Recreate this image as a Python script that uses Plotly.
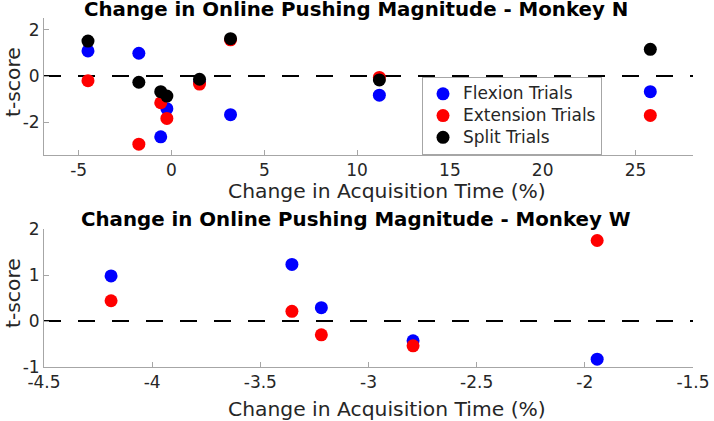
import plotly.graph_objects as go
from plotly.subplots import make_subplots

# Monkey N data
n_x = [-4.5, -1.76, -0.58, -0.25, 1.51, 3.18, 11.2, 25.8]
n_flex = [1.09, 0.99, -2.64, -1.42, -0.25, -1.68, -0.83, -0.68]
n_ext = [-0.20, -2.96, -1.16, -1.84, -0.35, 1.57, -0.06, -1.71]
n_split = [1.52, -0.27, -0.68, -0.87, -0.14, 1.62, -0.17, 1.16]

# Monkey W data
w_x = [-4.19, -3.354, -3.218, -2.794, -1.943]
w_flex = [0.98, 1.23, 0.29, -0.43, -0.83]
w_ext = [0.44, 0.21, -0.30, -0.54, 1.75]

series_names = ["Flexion Trials", "Extension Trials", "Split Trials"]
colors = ["#0000ff", "#ff0000", "#000000"]

n_xticks = [-5, 0, 5, 10, 15, 20, 25]
n_yticks = [-2, 0, 2]
w_xticks = [-4.5, -4, -3.5, -3, -2.5, -2, -1.5]
w_yticks = [-1, 0, 1, 2]

def lab(v):
    return "%g" % v

W, H = 714, 421
# plot area in page pixels
L, R, T, B = 44, 693, 18, 367
ml, mr, mt, mb = L, W - R, T, H - B
ph = H - mt - mb
pw = W - ml - mr

def py(y):  # page y -> paper
    return 1 - (y - T) / ph

def px(x):  # page x -> paper
    return (x - L) / pw

fig = make_subplots(rows=2, cols=1)
fig.update_layout(
    yaxis=dict(domain=[py(155), 1]),
    yaxis2=dict(domain=[0, py(229)]),
)

msize = 13
for name, vals, c in zip(series_names, [n_flex, n_ext, n_split], colors):
    fig.add_trace(go.Scatter(x=n_x, y=vals, mode="markers",
                             name=f'<span style="font-size:17px">{name}</span>',
                             marker=dict(color=c, size=msize, line=dict(width=0)),
                             showlegend=True), row=1, col=1)
for name, vals, c in zip(series_names[:2], [w_flex, w_ext], colors[:2]):
    fig.add_trace(go.Scatter(x=w_x, y=vals, mode="markers", name=name,
                             marker=dict(color=c, size=msize, line=dict(width=0)),
                             showlegend=False), row=2, col=1)

for r in (1, 2):
    fig.add_hline(y=0, line=dict(color="#000000", width=2, dash="17px,17px"),
                  row=r, col=1, layer="below")

font = "DejaVu Sans"
axis_common = dict(showgrid=False, zeroline=False, showline=True, linecolor="#a6a6a6",
                   linewidth=1, ticks="inside", ticklen=5, tickcolor="#a6a6a6",
                   automargin=False,
                   tickfont=dict(family=font, size=17, color="#262626"), mirror=False)

fig.update_xaxes(**axis_common)
fig.update_yaxes(**axis_common)
fig.update_xaxes(range=[-6.87, 28.1], tickvals=n_xticks, ticktext=[lab(v) for v in n_xticks], row=1, col=1)
fig.update_yaxes(range=[-3.43, 2.52], tickvals=n_yticks, ticktext=[lab(v) for v in n_yticks], row=1, col=1)
fig.update_xaxes(range=[-4.5, -1.5], tickvals=w_xticks, ticktext=[lab(v) for v in w_xticks], row=2, col=1)
fig.update_yaxes(range=[-1, 2], tickvals=w_yticks, ticktext=[lab(v) for v in w_yticks], row=2, col=1)

ann = []
def add_text(text, x, y, size, bold=False, angle=0, color="#262626"):
    ann.append(dict(text=f"<b>{text}</b>" if bold else text, x=px(x), y=py(y),
                    xref="paper", yref="paper", showarrow=False, textangle=angle,
                    xanchor="center", yanchor="middle",
                    font=dict(family=font, size=size, color=color)))

add_text("Change in Online Pushing Magnitude - Monkey N", 356, 9, 19.8, bold=True, color="#000000")
add_text("Change in Online Pushing Magnitude - Monkey W", 356, 219, 19.8, bold=True, color="#000000")
add_text("Change in Acquisition Time (%)", 387, 191, 20.3)
add_text("Change in Acquisition Time (%)", 387, 409, 20.3)
add_text("t-score", 13, 82, 20.3, angle=-90)
add_text("t-score", 13, 293, 20.3, angle=-90)

fig.update_layout(
    width=W, height=H, margin=dict(l=ml, r=mr, t=mt, b=mb, autoexpand=False),
    paper_bgcolor="white", plot_bgcolor="white",
    annotations=ann,
    legend=dict(x=px(422), y=py(77), xanchor="left", yanchor="top",
                bgcolor="white", bordercolor="#a6a6a6", borderwidth=1,
                font=dict(family=font, size=14.4, color="#262626"),
                tracegroupgap=0),
)

fig.write_html("out.html", config={"displayModeBar": False},
               post_script="document.body.style.margin='0px';")
